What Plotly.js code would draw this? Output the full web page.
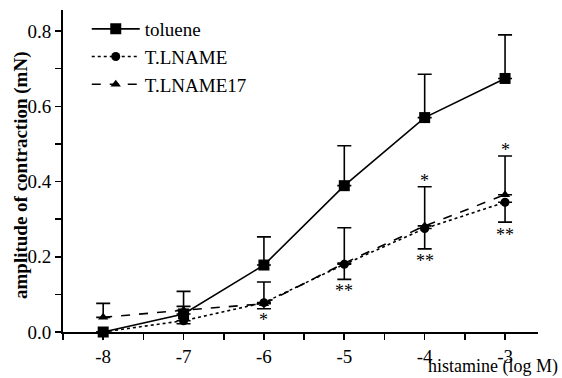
<!DOCTYPE html>
<html>
<head>
<meta charset="utf-8">
<script src="https://cdn.plot.ly/plotly-3.0.1.min.js"></script>
<style>html,body{margin:0;padding:0;background:#fff;}#chart{width:562px;height:378px;}</style>
</head>
<body>
<div id="chart"></div>
<script>
const logConc = [-8, -7, -6, -5, -4, -3];
const toluene = [0.0, 0.048, 0.178, 0.389, 0.570, 0.674];
const tolueneErrPlus = [0, 0.06, 0.075, 0.106, 0.115, 0.116];
const tlname = [0.0, 0.03, 0.078, 0.18, 0.275, 0.345];
const tlnameErrMinus = [0, 0.008, 0.016, 0.04, 0.054, 0.053];
const tlname17 = [0.039, 0.058, 0.075, 0.183, 0.282, 0.365];
const tlname17ErrPlus = [0.037, 0.01, 0.058, 0.094, 0.104, 0.103];
const starX = [-6, -5, -4, -4, -3, -3];
const starY = [0.039, 0.116, 0.41, 0.196, 0.492, 0.266];
const starText = ['*', '**', '*', '**', '*', '**'];
const xTickVals = [-8, -7, -6, -5, -4, -3];
const xTickText = ['-8', '-7', '-6', '-5', '-4', '-3'];
const yTickVals = [0, 0.2, 0.4, 0.6, 0.8];
const yTickText = ['0.0', '0.2', '0.4', '0.6', '0.8'];

const FONT = '"Liberation Serif", "Times New Roman", Times, serif';

const traces = [
  {
    name: 'toluene', x: logConc, y: toluene, type: 'scatter', mode: 'lines+markers',
    line: {color: '#000', width: 1.6, dash: 'solid'},
    marker: {symbol: 'square', size: 11, color: '#000'},
    error_y: {type: 'data', symmetric: false, array: tolueneErrPlus, arrayminus: [0,0,0,0,0,0], color: '#000', thickness: 1.6, width: 7},
    cliponaxis: false
  },
  {
    name: 'T.LNAME', x: logConc, y: tlname, type: 'scatter', mode: 'lines+markers',
    line: {color: '#000', width: 1.6, dash: 'dot'},
    marker: {symbol: 'circle', size: 9, color: '#000'},
    error_y: {type: 'data', symmetric: false, array: [0,0,0,0,0,0], arrayminus: tlnameErrMinus, color: '#000', thickness: 1.6, width: 7},
    cliponaxis: false
  },
  {
    name: 'T.LNAME17', x: logConc, y: tlname17, type: 'scatter', mode: 'lines+markers',
    line: {color: '#000', width: 1.6, dash: 'dash'},
    marker: {symbol: 'triangle-up', size: 9, color: '#000'},
    error_y: {type: 'data', symmetric: false, array: tlname17ErrPlus, arrayminus: [0,0,0,0,0,0], color: '#000', thickness: 1.6, width: 7},
    cliponaxis: false
  }
];

const annotations = starX.map((x, i) => ({
  x: x, y: starY[i], xref: 'x', yref: 'y', text: starText[i], showarrow: false,
  font: {family: FONT, size: 18, color: '#000'}, xanchor: 'center', yanchor: 'middle', yshift: -3
}));
annotations.push({
  xref: 'paper', yref: 'paper', x: 1, y: 0, xanchor: 'right', yanchor: 'top',
  xshift: 22, yshift: -22, text: 'histamine (log M)', showarrow: false,
  font: {family: FONT, size: 18, color: '#000'}
});
annotations.push({
  xref: 'paper', yref: 'paper', x: 0, y: 0.5, xanchor: 'center', yanchor: 'middle',
  xshift: -42, yshift: -4, textangle: -90, text: '<b>amplitude of contraction (mN)</b>', showarrow: false,
  font: {family: FONT, size: 19, color: '#000'}
});

const layout = {
  width: 562, height: 378,
  margin: {l: 63, r: 24, t: 10, b: 46},
  paper_bgcolor: '#fff', plot_bgcolor: '#fff',
  font: {family: FONT, size: 19, color: '#000'},
  showlegend: true,
  legend: {x: 0.05, y: 1.0, xanchor: 'left', yanchor: 'top', bgcolor: 'rgba(0,0,0,0)',
           font: {family: FONT, size: 19, color: '#000'}, itemwidth: 48, tracegroupgap: 0},
  xaxis: {
    range: [-8.5, -2.59], showgrid: false, zeroline: false,
    showline: true, linecolor: '#000', linewidth: 2,
    ticks: 'outside', ticklen: 6, tickwidth: 1.6, tickcolor: '#000',
    tickvals: xTickVals, ticktext: xTickText,
    tickfont: {family: FONT, size: 19, color: '#000'},
    minor: {dtick: 0.5, tick0: -8, ticks: 'outside', ticklen: 6, tickwidth: 1.6, tickcolor: '#000', showgrid: false}
  },
  yaxis: {
    range: [0, 0.856], showgrid: false, zeroline: false,
    showline: true, linecolor: '#000', linewidth: 2,
    ticks: 'outside', ticklen: 6, tickwidth: 1.6, tickcolor: '#000',
    tickvals: yTickVals, ticktext: yTickText,
    tickfont: {family: FONT, size: 19, color: '#000'},
    minor: {dtick: 0.1, tick0: 0, ticks: 'outside', ticklen: 6, tickwidth: 1.6, tickcolor: '#000', showgrid: false}
  },
  annotations: annotations
};

Plotly.newPlot('chart', traces, layout, {displayModeBar: false, staticPlot: true});
</script>
</body>
</html>
